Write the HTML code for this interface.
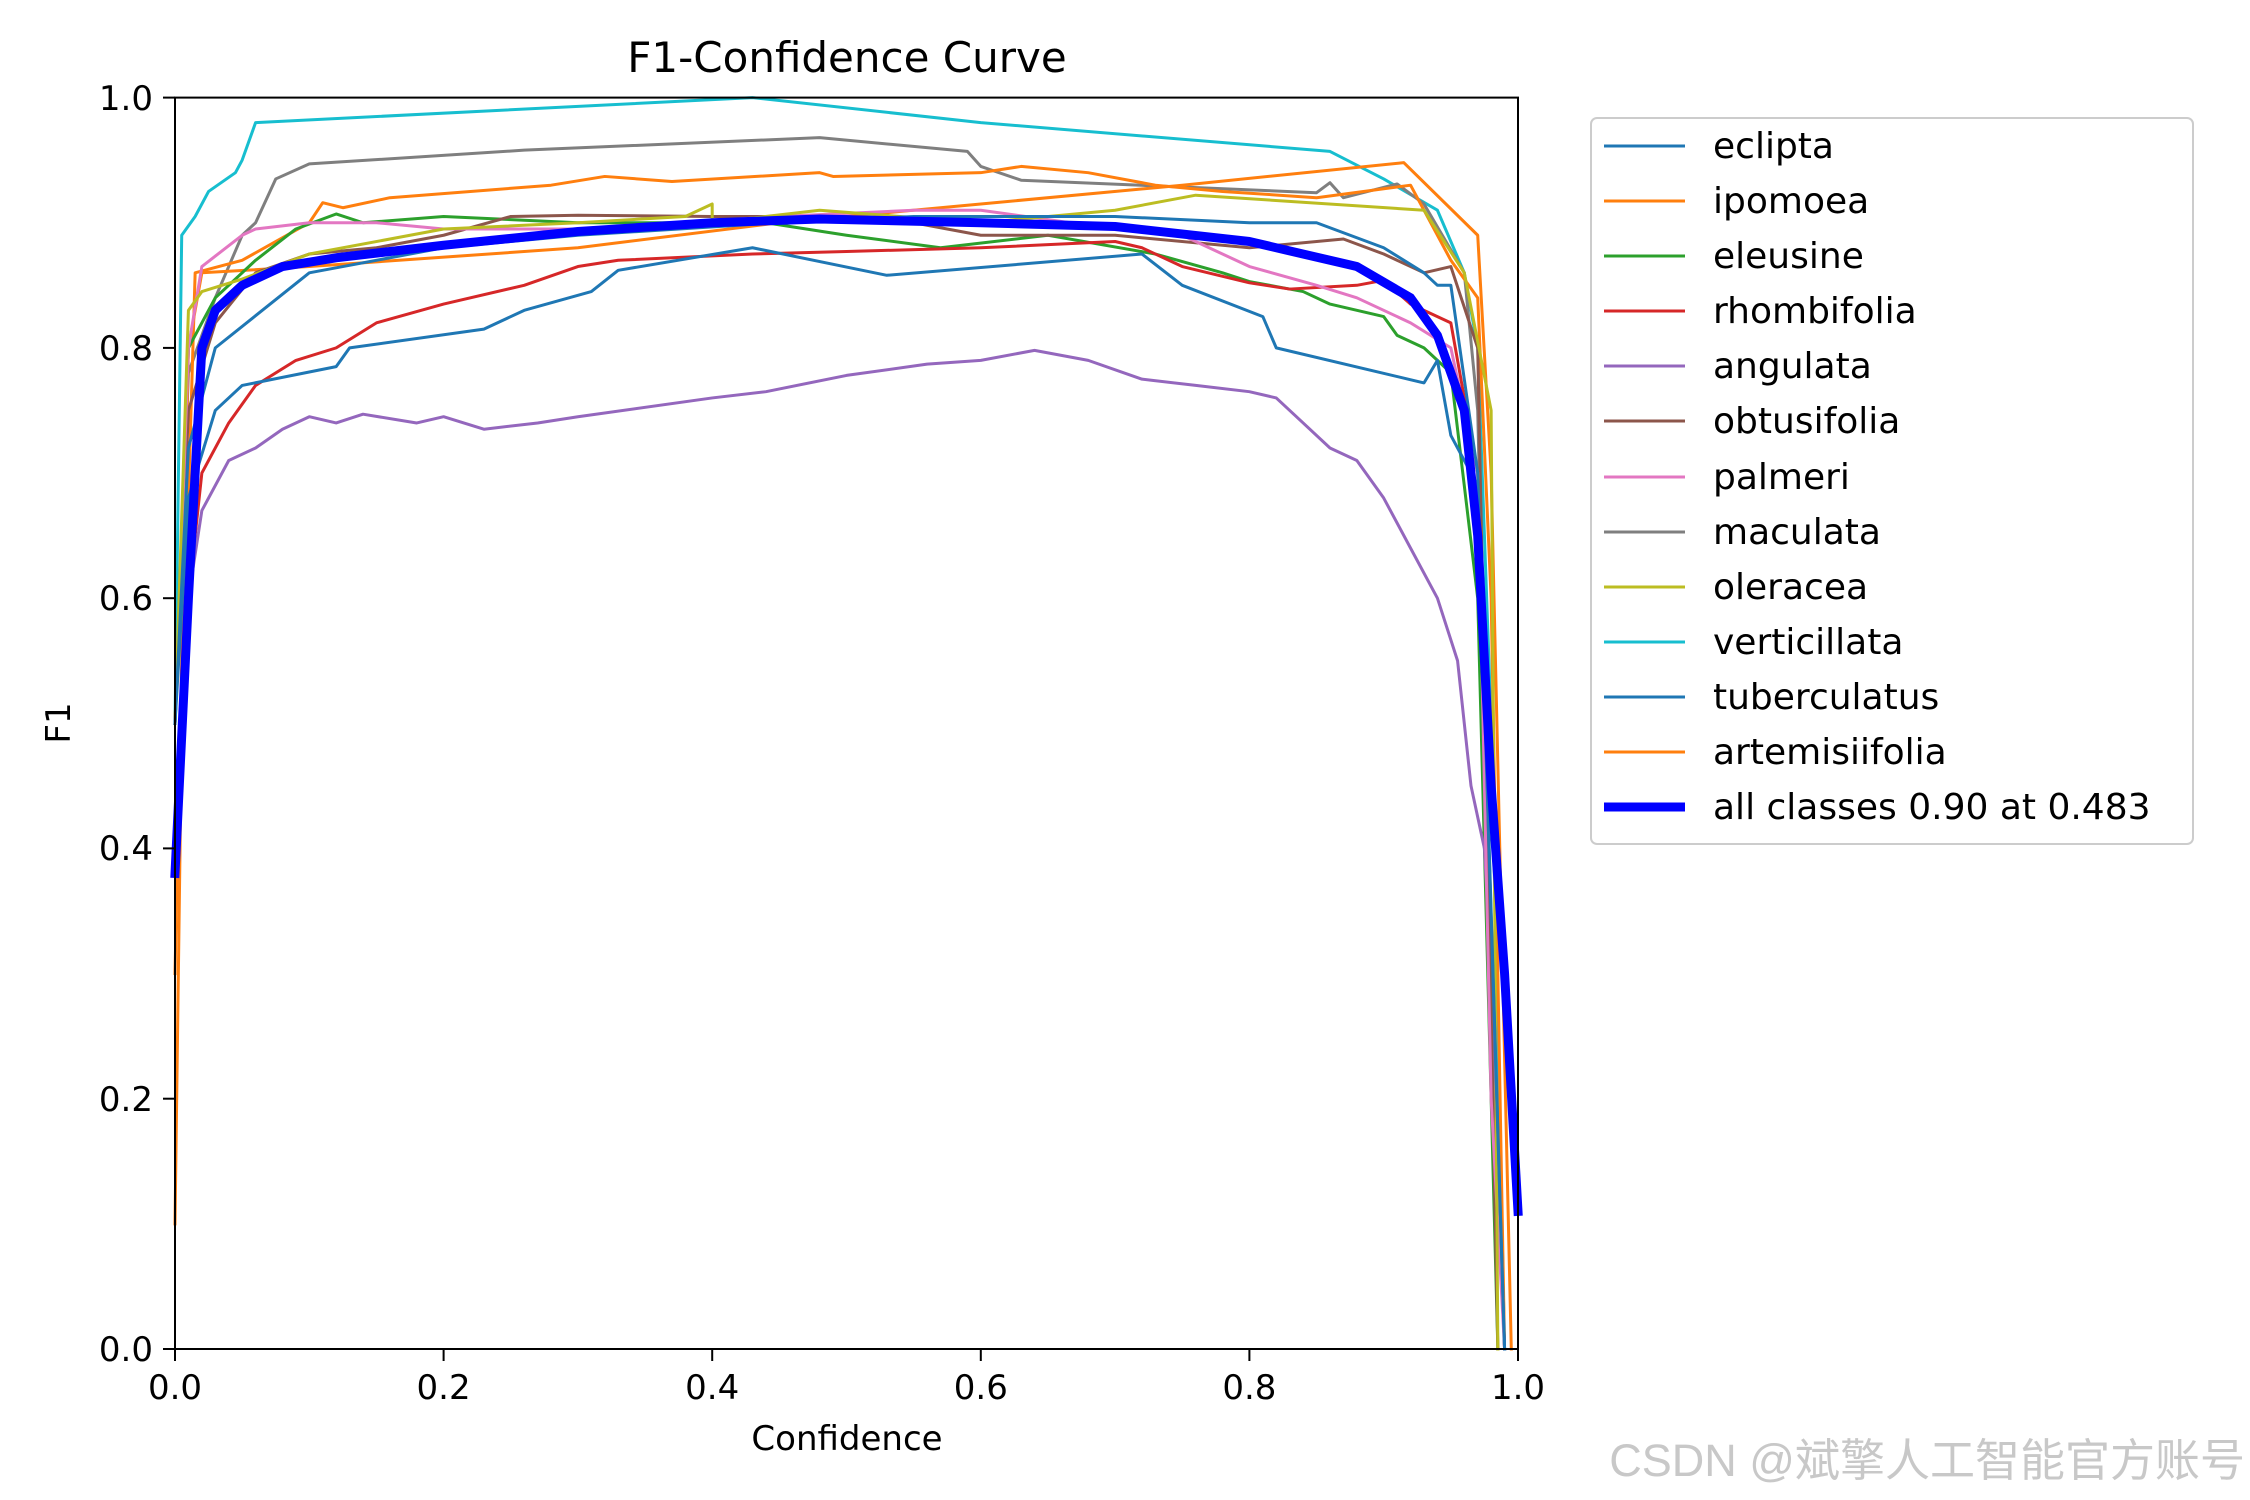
<!DOCTYPE html>
<html><head><meta charset="utf-8"><style>
html,body{margin:0;padding:0;background:#fff;}
svg{display:block;font-family:"DejaVu Sans","Liberation Sans",sans-serif;}
</style></head><body>
<svg width="2250" height="1500" viewBox="0 0 2250 1500" xmlns="http://www.w3.org/2000/svg">
<rect width="2250" height="1500" fill="#fff"/>
<text x="847" y="72" font-size="42" text-anchor="middle" fill="#000">F1-Confidence Curve</text>
<g transform="translate(175,1349) scale(1343,-1251.4)" fill="none" stroke-linejoin="round" stroke-linecap="square" stroke-width="3">
<polyline vector-effect="non-scaling-stroke" stroke="#17becf" points="0,0.5 0.005,0.89 0.015,0.905 0.025,0.925 0.045,0.94 0.05,0.95 0.06,0.98 0.43,1.0 0.6,0.98 0.86,0.957 0.9,0.935 0.94,0.91 0.96,0.86 0.97,0.8 0.98,0.5 0.99,0"/>
<polyline vector-effect="non-scaling-stroke" stroke="#7f7f7f" points="0,0.5 0.01,0.78 0.03,0.84 0.05,0.89 0.06,0.9 0.075,0.935 0.1,0.947 0.26,0.958 0.48,0.968 0.59,0.957 0.6,0.945 0.63,0.934 0.85,0.924 0.86,0.932 0.87,0.92 0.91,0.931 0.93,0.915 0.96,0.86 0.97,0.75 0.98,0.3 0.99,0"/>
<polyline vector-effect="non-scaling-stroke" stroke="#ff7f0e" points="0,0.1 0.005,0.5 0.015,0.86 0.05,0.87 0.1,0.9 0.11,0.916 0.125,0.912 0.16,0.92 0.28,0.93 0.32,0.937 0.37,0.933 0.48,0.94 0.49,0.937 0.6,0.94 0.63,0.945 0.68,0.94 0.73,0.93 0.78,0.925 0.85,0.92 0.92,0.93 0.95,0.87 0.97,0.84 0.98,0.6 0.99,0"/>
<polyline vector-effect="non-scaling-stroke" stroke="#ff7f0e" points="0,0.3 0.01,0.8 0.02,0.86 0.1,0.865 0.3,0.88 0.45,0.9 0.6,0.915 0.75,0.93 0.915,0.948 0.97,0.89 0.98,0.7 0.995,0"/>
<polyline vector-effect="non-scaling-stroke" stroke="#2ca02c" points="0,0.5 0.01,0.8 0.03,0.84 0.06,0.87 0.09,0.895 0.12,0.907 0.14,0.9 0.2,0.905 0.3,0.9 0.44,0.9 0.5,0.89 0.57,0.88 0.65,0.89 0.73,0.875 0.78,0.86 0.8,0.853 0.84,0.845 0.86,0.835 0.9,0.825 0.91,0.81 0.93,0.8 0.95,0.78 0.97,0.6 0.985,0"/>
<polyline vector-effect="non-scaling-stroke" stroke="#d62728" points="0,0.4 0.01,0.6 0.02,0.7 0.04,0.74 0.06,0.77 0.09,0.79 0.12,0.8 0.15,0.82 0.2,0.835 0.26,0.85 0.3,0.865 0.33,0.87 0.43,0.875 0.5,0.877 0.6,0.88 0.7,0.885 0.72,0.88 0.75,0.865 0.8,0.852 0.83,0.847 0.88,0.85 0.9,0.854 0.92,0.835 0.95,0.82 0.97,0.7 0.98,0.3 0.99,0"/>
<polyline vector-effect="non-scaling-stroke" stroke="#9467bd" points="0,0.4 0.01,0.6 0.02,0.67 0.04,0.71 0.06,0.72 0.08,0.735 0.1,0.745 0.12,0.74 0.14,0.747 0.18,0.74 0.2,0.745 0.23,0.735 0.27,0.74 0.3,0.745 0.4,0.76 0.44,0.765 0.5,0.778 0.56,0.787 0.6,0.79 0.64,0.798 0.68,0.79 0.72,0.775 0.76,0.77 0.8,0.765 0.82,0.76 0.84,0.74 0.86,0.72 0.88,0.71 0.9,0.68 0.92,0.64 0.94,0.6 0.955,0.55 0.965,0.45 0.975,0.4 0.98,0.3 0.99,0"/>
<polyline vector-effect="non-scaling-stroke" stroke="#8c564b" points="0,0.5 0.01,0.75 0.03,0.82 0.06,0.86 0.1,0.875 0.15,0.88 0.2,0.89 0.25,0.905 0.3,0.906 0.4,0.905 0.5,0.905 0.55,0.9 0.6,0.89 0.7,0.89 0.8,0.88 0.87,0.887 0.9,0.875 0.93,0.86 0.95,0.865 0.97,0.8 0.985,0"/>
<polyline vector-effect="non-scaling-stroke" stroke="#e377c2" points="0,0.5 0.01,0.8 0.02,0.865 0.05,0.89 0.06,0.895 0.1,0.9 0.15,0.9 0.2,0.895 0.3,0.895 0.45,0.905 0.55,0.91 0.6,0.91 0.7,0.895 0.75,0.89 0.8,0.865 0.85,0.85 0.88,0.84 0.92,0.82 0.95,0.8 0.97,0.7 0.98,0.2 0.99,0"/>
<polyline vector-effect="non-scaling-stroke" stroke="#bcbd22" points="0,0.5 0.01,0.83 0.02,0.845 0.05,0.855 0.1,0.875 0.2,0.895 0.3,0.9 0.38,0.905 0.4,0.915 0.4,0.9 0.48,0.91 0.6,0.9 0.7,0.91 0.76,0.922 0.93,0.91 0.96,0.86 0.98,0.75 0.985,0"/>
<polyline vector-effect="non-scaling-stroke" stroke="#1f77b4" points="0,0.5 0.01,0.72 0.03,0.8 0.1,0.86 0.2,0.88 0.3,0.89 0.45,0.9 0.55,0.905 0.7,0.905 0.8,0.9 0.85,0.9 0.9,0.88 0.93,0.86 0.94,0.85 0.95,0.85 0.97,0.7 0.99,0"/>
<polyline vector-effect="non-scaling-stroke" stroke="#1f77b4" points="0,0.5 0.01,0.68 0.03,0.75 0.05,0.77 0.12,0.785 0.13,0.8 0.23,0.815 0.26,0.83 0.31,0.845 0.33,0.862 0.43,0.88 0.53,0.858 0.72,0.875 0.75,0.85 0.81,0.825 0.82,0.8 0.93,0.772 0.94,0.79 0.95,0.73 0.97,0.69 0.99,0"/>
<polyline vector-effect="non-scaling-stroke" stroke="#0000ff" stroke-width="9" points="0,0.38 0.01,0.6 0.02,0.8 0.03,0.83 0.05,0.85 0.08,0.865 0.12,0.872 0.2,0.882 0.3,0.893 0.4,0.9 0.48,0.903 0.6,0.9 0.7,0.897 0.8,0.885 0.88,0.865 0.92,0.84 0.94,0.81 0.96,0.75 0.97,0.65 0.98,0.45 0.99,0.3 1.0,0.11"/>
</g>
<rect x="175" y="97.6" width="1343" height="1251.4" fill="none" stroke="#000" stroke-width="2"/>
<g stroke="#000" stroke-width="2">
<line x1="175" y1="1349" x2="175" y2="1361"/><line x1="443.6" y1="1349" x2="443.6" y2="1361"/><line x1="712.2" y1="1349" x2="712.2" y2="1361"/><line x1="980.8" y1="1349" x2="980.8" y2="1361"/><line x1="1249.4" y1="1349" x2="1249.4" y2="1361"/><line x1="1518" y1="1349" x2="1518" y2="1361"/>
<line x1="163" y1="1349" x2="175" y2="1349"/><line x1="163" y1="1098.7" x2="175" y2="1098.7"/><line x1="163" y1="848.4" x2="175" y2="848.4"/><line x1="163" y1="598.2" x2="175" y2="598.2"/><line x1="163" y1="347.9" x2="175" y2="347.9"/><line x1="163" y1="97.6" x2="175" y2="97.6"/>
</g>
<g font-size="34" fill="#000" text-anchor="middle">
<text x="175" y="1399">0.0</text><text x="443.6" y="1399">0.2</text><text x="712.2" y="1399">0.4</text><text x="980.8" y="1399">0.6</text><text x="1249.4" y="1399">0.8</text><text x="1518" y="1399">1.0</text>
<text x="847" y="1450">Confidence</text>
</g>
<g font-size="34" fill="#000" text-anchor="end">
<text x="153" y="1361">0.0</text><text x="153" y="1111">0.2</text><text x="153" y="860">0.4</text><text x="153" y="610">0.6</text><text x="153" y="360">0.8</text><text x="153" y="110">1.0</text>
</g>
<text x="0" y="0" font-size="34" text-anchor="middle" transform="translate(70,723) rotate(-90)">F1</text>
<rect x="1591" y="118" width="602" height="726" rx="6" fill="#fff" stroke="#ccc" stroke-width="2"/>
<g font-size="36" fill="#000">
<line x1="1604" y1="146" x2="1685" y2="146" stroke="#1f77b4" stroke-width="3"/><text x="1713" y="158">eclipta</text>
<line x1="1604" y1="201" x2="1685" y2="201" stroke="#ff7f0e" stroke-width="3"/><text x="1713" y="213">ipomoea</text>
<line x1="1604" y1="256" x2="1685" y2="256" stroke="#2ca02c" stroke-width="3"/><text x="1713" y="268">eleusine</text>
<line x1="1604" y1="311" x2="1685" y2="311" stroke="#d62728" stroke-width="3"/><text x="1713" y="323">rhombifolia</text>
<line x1="1604" y1="366" x2="1685" y2="366" stroke="#9467bd" stroke-width="3"/><text x="1713" y="378">angulata</text>
<line x1="1604" y1="421" x2="1685" y2="421" stroke="#8c564b" stroke-width="3"/><text x="1713" y="433">obtusifolia</text>
<line x1="1604" y1="477" x2="1685" y2="477" stroke="#e377c2" stroke-width="3"/><text x="1713" y="489">palmeri</text>
<line x1="1604" y1="532" x2="1685" y2="532" stroke="#7f7f7f" stroke-width="3"/><text x="1713" y="544">maculata</text>
<line x1="1604" y1="587" x2="1685" y2="587" stroke="#bcbd22" stroke-width="3"/><text x="1713" y="599">oleracea</text>
<line x1="1604" y1="642" x2="1685" y2="642" stroke="#17becf" stroke-width="3"/><text x="1713" y="654">verticillata</text>
<line x1="1604" y1="697" x2="1685" y2="697" stroke="#1f77b4" stroke-width="3"/><text x="1713" y="709">tuberculatus</text>
<line x1="1604" y1="752" x2="1685" y2="752" stroke="#ff7f0e" stroke-width="3"/><text x="1713" y="764">artemisiifolia</text>
<line x1="1604" y1="807" x2="1685" y2="807" stroke="#0000ff" stroke-width="9"/><text x="1713" y="819">all classes 0.90 at 0.483</text>
</g>
<text x="2245" y="1476" font-size="45" fill="#c8c8c8" text-anchor="end" font-family="'Liberation Sans','Noto Sans CJK SC',sans-serif">CSDN @斌擎人工智能官方账号</text>
</svg>
</body></html>
